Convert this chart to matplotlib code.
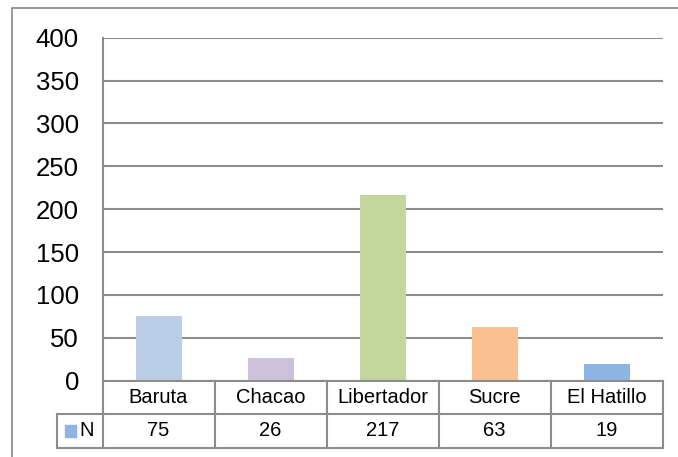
import matplotlib.pyplot as plt
from matplotlib.patches import Rectangle

plt.rcParams['font.family'] = ['Liberation Sans', 'DejaVu Sans']

categories = ['Baruta', 'Chacao', 'Libertador', 'Sucre', 'El Hatillo']
values = [75, 26, 217, 63, 19]
series_name = 'N'
colors = ['#B9CDE5', '#CCC1DA', '#C3D69B', '#FAC090', '#8EB4E3']
yticks = [0, 50, 100, 150, 200, 250, 300, 350, 400]

W, H = 678, 457
fig = plt.figure(figsize=(W / 100, H / 100), dpi=100)
fig.patch.set_facecolor('white')

# plot area in pixels
left, right, top, bottom = 102.5, 662.8, 37.7, 380.7
ax = fig.add_axes([left / W, 1 - bottom / H, (right - left) / W, (bottom - top) / H])

grid_c = '#8C8C8C'
ax.bar(range(len(categories)), values, width=0.41, color=colors, zorder=3)
ax.set_xlim(-0.5, len(categories) - 0.5)
ax.set_ylim(0, 400)
ax.set_yticks(yticks)
ax.yaxis.grid(True, color=grid_c, linewidth=1.5, zorder=0)
ax.set_axisbelow(True)
for s in ['top', 'right', 'bottom']:
    ax.spines[s].set_visible(False)
ax.spines['left'].set_color(grid_c)
ax.spines['left'].set_linewidth(1.5)
ax.tick_params(axis='y', length=0, pad=17, labelsize=18.5)
ax.tick_params(axis='x', length=0, labelbottom=False)

# data table under the plot
tr = ax.get_xaxis_transform()
unit_px = (right - left) / len(categories)
r1 = -(413.5 - bottom) / (bottom - top)
r2 = -(447.5 - bottom) / (bottom - top)
leg_x = -0.5 - (left - 57.5) / unit_px
n = len(categories)
lk = dict(color=grid_c, linewidth=1.5, transform=tr, clip_on=False, zorder=4)
ax.plot([-0.5, n - 0.5], [0, 0], **lk)
ax.plot([leg_x, n - 0.5], [r1, r1], **lk)
ax.plot([leg_x, n - 0.5], [r2, r2], **lk)
for i in range(n + 1):
    ax.plot([i - 0.5, i - 0.5], [0, r2], **lk)
ax.plot([leg_x, leg_x], [r1, r2], **lk)
for i, (c, v) in enumerate(zip(categories, values)):
    ax.text(i, r1 / 2, c, transform=tr, ha='center', va='center', fontsize=14.5)
    ax.text(i, (r1 + r2) / 2, str(v), transform=tr, ha='center', va='center', fontsize=14.5)

# legend key in the table
fig.patches.append(Rectangle((65 / W, 1 - 437 / H), 11 / W, 12 / H,
                             transform=fig.transFigure, color=colors[-1]))
fig.text(79 / W, 1 - 431 / H, series_name, ha='left', va='center', fontsize=14.5)

# chart area border (clipped at right and bottom)
fig.patches.append(Rectangle((12 / W, -0.05), 1.2, 1.05 - 8 / H,
                             transform=fig.transFigure, fill=False,
                             edgecolor='#868686', linewidth=1.2))

fig.savefig('out.png', dpi=100)
